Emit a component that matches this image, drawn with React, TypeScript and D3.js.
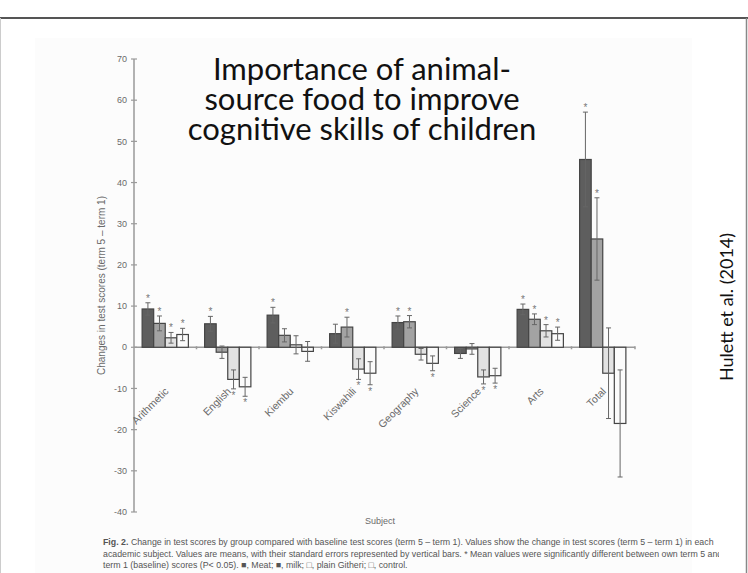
import React, { useEffect, useRef } from "react";
import * as d3 from "d3";

// subjects on the x axis
const subjects = ["Arithmetic", "English", "Kiembu", "Kiswahili", "Geography", "Science", "Arts", "Total"];
const groups = ["Meat", "Milk", "Plain Githeri", "Control"];

// mean change in test scores (term 5 - term 1)
const meat = [9.3, 5.7, 7.8, 3.3, 6.0, -1.5, 9.2, 45.6];
const milk = [5.8, -1.2, 2.9, 4.9, 6.2, -0.4, 6.8, 26.3];
const plainGitheri = [2.3, -7.8, 0.6, -5.3, -1.7, -7.2, 4.0, -6.3];
const control = [3.1, -9.6, -1.0, -6.3, -3.9, -6.9, 3.3, -18.5];

// standard errors
const meatSe = [1.5, 1.8, 1.9, 2.3, 1.6, 1.2, 1.3, 11.5];
const milkSe = [1.8, 1.5, 1.6, 2.4, 1.5, 1.3, 1.3, 10];
const plainGitheriSe = [1.3, 2.3, 2.2, 2.5, 1.4, 1.7, 1.5, 11];
const controlSe = [1.5, 2.3, 2.4, 2.8, 1.8, 1.8, 1.6, 13];

// significant vs baseline (asterisk)
const meatSig = [1, 1, 1, 0, 1, 0, 1, 1];
const milkSig = [1, 0, 0, 1, 1, 0, 1, 1];
const plainGitheriSig = [1, 1, 0, 1, 0, 1, 1, 0];
const controlSig = [1, 1, 0, 1, 1, 1, 1, 0];

const yTicks = [70, 60, 50, 40, 30, 20, 10, 0, -10, -20, -30, -40];

const titleLines = ["Importance of animal-", "source food to improve", "cognitive skills of children"];
const captionLines = [
  "Change in test scores by group compared with baseline test scores (term 5 \u2013 term 1). Values show the change in test scores (term 5 \u2013 term 1) in each",
  "academic subject. Values are means, with their standard errors represented by vertical bars. * Mean values were significantly different between own term 5 and",
  "term 1 (baseline) scores (P< 0.05). \u25A0, Meat; \u25A0, milk; \u25A1, plain Githeri; \u25A1, control.",
];

const series = [
  { name: groups[0], values: meat, se: meatSe, sig: meatSig, fill: "#5e5e5e" },
  { name: groups[1], values: milk, se: milkSe, sig: milkSig, fill: "#a3a3a3" },
  { name: groups[2], values: plainGitheri, se: plainGitheriSe, sig: plainGitheriSig, fill: "#e2e2e2" },
  { name: groups[3], values: control, se: controlSe, sig: controlSig, fill: "#fbfbfb" },
];

export default function App() {
  const ref = useRef<SVGSVGElement>(null);

  useEffect(() => {
    const svg = d3.select(ref.current);
    svg.selectAll("*").remove();
    const width = 748;
    const height = 573;
    svg.attr("width", width).attr("height", height);

    // slide frame
    svg.append("rect").attr("width", width).attr("height", height).attr("fill", "#fff");
    svg.append("rect").attr("x", 35).attr("y", 38).attr("width", 657).attr("height", 535).attr("fill", "#fcfcfc");
    svg.append("line").attr("x1", 0).attr("x2", width).attr("y1", 18).attr("y2", 18).attr("stroke", "#555").attr("stroke-width", 2);
    svg.append("line").attr("x1", 746.5).attr("x2", 746.5).attr("y1", 18).attr("y2", height).attr("stroke", "#888").attr("stroke-width", 1.5);
    svg.append("line").attr("x1", 0.5).attr("x2", 0.5).attr("y1", 18).attr("y2", height).attr("stroke", "#ccc").attr("stroke-width", 1);

    const x0 = d3.scaleBand().domain(subjects).range([134, 634]).paddingInner(0.26).paddingOuter(0.13);
    const x1 = d3.scaleBand().domain(groups).range([0, x0.bandwidth()]);
    const y = d3.scaleLinear().domain([-40, 70]).range([512, 59]);

    const axisColor = "#9a9a9a";
    const textColor = "#6a6a6a";
    const font = "Liberation Sans, Arial, sans-serif";

    // y axis
    const gy = svg.append("g");
    gy.append("line").attr("x1", 134).attr("x2", 134).attr("y1", y(70)).attr("y2", y(-40)).attr("stroke", axisColor).attr("stroke-width", 1.5);
    gy.selectAll("line.tick").data(yTicks).enter().append("line")
      .attr("class", "tick")
      .attr("x1", 131).attr("x2", 137)
      .attr("y1", (d) => y(d)).attr("y2", (d) => y(d))
      .attr("stroke", axisColor).attr("stroke-width", 1.2);
    gy.selectAll("text").data(yTicks).enter().append("text")
      .attr("x", 127).attr("y", (d) => y(d)).attr("dy", "0.35em")
      .attr("text-anchor", "end")
      .attr("font-family", font)
      .attr("font-size", 9).attr("fill", textColor)
      .text((d) => d);
    svg.append("text")
      .attr("transform", `translate(105, ${y(15)}) rotate(-90)`)
      .attr("text-anchor", "middle")
      .attr("font-family", font)
      .attr("font-size", 10).attr("fill", textColor)
      .text("Changes in test scores (term 5 \u2013 term 1)");

    // zero line with group separators
    svg.append("line").attr("x1", 134).attr("x2", 635).attr("y1", y(0)).attr("y2", y(0)).attr("stroke", axisColor).attr("stroke-width", 1.5);
    const seps = subjects.slice(1).map((s) => (x0(s) as number) - (x0.step() - x0.bandwidth()) / 2).concat([635]);
    svg.selectAll("line.sep").data(seps).enter().append("line")
      .attr("class", "sep")
      .attr("x1", (d) => d).attr("x2", (d) => d)
      .attr("y1", y(0) - 1).attr("y2", y(0) + 2)
      .attr("stroke", axisColor).attr("stroke-width", 1.5);

    // bars
    const bw = x1.bandwidth();
    series.forEach((s) => {
      const g = svg.append("g");
      const bx = (i: number) => (x0(subjects[i]) as number) + (x1(s.name) as number);
      g.selectAll("rect").data(s.values).enter().append("rect")
        .attr("x", (d, i) => bx(i))
        .attr("y", (d) => y(Math.max(0, d)))
        .attr("width", bw)
        .attr("height", (d) => Math.abs(y(d) - y(0)))
        .attr("fill", s.fill)
        .attr("stroke", "#444").attr("stroke-width", 1.2);
      // error bars
      g.selectAll("line.err").data(s.values).enter().append("line")
        .attr("class", "err")
        .attr("x1", (d, i) => bx(i) + bw / 2).attr("x2", (d, i) => bx(i) + bw / 2)
        .attr("y1", (d, i) => y(d + s.se[i])).attr("y2", (d, i) => y(d - s.se[i]))
        .attr("stroke", "#666").attr("stroke-width", 1);
      [1, -1].forEach((k) => {
        g.selectAll(`line.cap${k}`).data(s.values).enter().append("line")
          .attr("class", `cap${k}`)
          .attr("x1", (d, i) => bx(i) + bw / 2 - 2.5).attr("x2", (d, i) => bx(i) + bw / 2 + 2.5)
          .attr("y1", (d, i) => y(d + k * s.se[i])).attr("y2", (d, i) => y(d + k * s.se[i]))
          .attr("stroke", "#666").attr("stroke-width", 1);
      });
      // asterisks
      g.selectAll("text").data(s.values.map((d, i) => ({ d, i })).filter((o) => s.sig[o.i]))
        .enter().append("text")
        .attr("x", (o) => bx(o.i) + bw / 2)
        .attr("y", (o) => (o.d >= 0 ? y(o.d + s.se[o.i]) - 1 : y(o.d - s.se[o.i]) + 10))
        .attr("text-anchor", "middle")
        .attr("font-family", font)
        .attr("font-size", 10).attr("fill", "#777")
        .text("*");
    });

    // category labels
    svg.append("g").selectAll("text").data(subjects).enter().append("text")
      .attr("transform", (d) => `translate(${(x0(d) as number) + x0.bandwidth() / 2 + 4}, 392) rotate(-45)`)
      .attr("text-anchor", "end")
      .attr("font-family", font)
      .attr("font-size", 10.5).attr("fill", textColor)
      .text((d) => d);

    svg.append("text")
      .attr("x", 380).attr("y", 524)
      .attr("text-anchor", "middle")
      .attr("font-family", font)
      .attr("font-size", 9).attr("fill", textColor)
      .text("Subject");

    // caption
    svg.append("clipPath").attr("id", "capclip").append("rect").attr("x", 95).attr("y", 530).attr("width", 624).attr("height", 43);
    const cap = svg.append("g").attr("clip-path", "url(#capclip)")
      .attr("font-family", font)
      .attr("font-size", 8.8).attr("fill", "#555");
    captionLines.forEach((line, i) => {
      const t = cap.append("text").attr("x", 103).attr("y", 545 + i * 11.5);
      if (i === 0) t.append("tspan").attr("font-weight", "bold").text("Fig. 2. ");
      t.append("tspan").text(line);
    });

    // title
    svg.append("g").selectAll("text").data(titleLines).enter().append("text")
      .attr("x", 362).attr("y", (d, i) => 80 + i * 30)
      .attr("text-anchor", "middle")
      .attr("font-family", "Lato, sans-serif")
      .attr("font-size", 31).attr("fill", "#111")
      .text((d) => d);

    // source note
    svg.append("text")
      .attr("transform", "translate(733, 307) rotate(-90)")
      .attr("text-anchor", "middle")
      .attr("font-family", "Lato, sans-serif")
      .attr("font-size", 18).attr("fill", "#111")
      .text("Hulett et al. (2014)");
  }, []);

  return <svg ref={ref} style={{ position: "absolute", left: 0, top: 0 }}></svg>;
}
